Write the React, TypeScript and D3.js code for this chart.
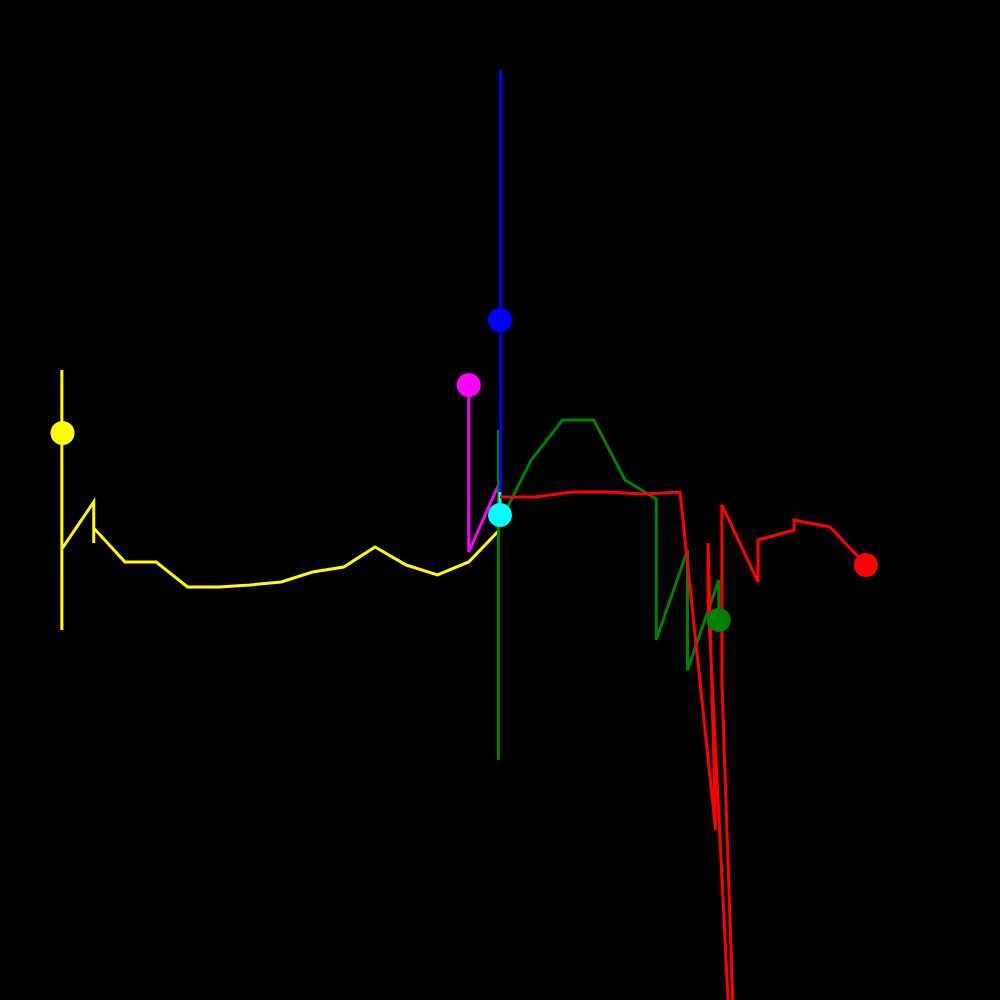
import React from "react";
import * as d3 from "d3";

// Each series: x positions (grid units, 1 unit = 31.25px) and y values (px-domain units)
const yellowX = [1.98, 1.98, 1.98, 3.0, 3.0, 3.0, 4.0, 5.0, 6.0, 7.0, 8.0, 9.0, 10.0, 11.0, 12.0, 13.0, 14.0, 15.0, 15.95];
const yellowY = [370, 630, 549, 502, 543, 528, 562, 562, 587, 587, 585, 582, 572, 567, 547, 565, 575, 562, 531];

const magentaX = [15.0, 15.0, 15.0, 15.0, 15.95];
const magentaY = [385, 455, 440, 552, 485];

const greenX = [15.95, 15.95, 15.95, 17.0, 18.0, 19.0, 20.0, 21.0, 21.0, 22.0, 22.0, 23.0, 23.0];
const greenY = [430, 760, 525, 460, 420, 420, 480, 499, 640, 550, 670, 580, 620];

const blueX = [16.02, 16.02];
const blueY = [70, 492];

const cyanX = [16.0, 16.0];
const cyanY = [492, 515];

const redX = [16.0, 17.12, 18.3, 19.42, 20.58, 21.76, 22.9, 22.66, 22.66, 23.36, 23.49, 23.1, 23.1, 24.26, 24.26, 25.41, 25.41, 26.56, 27.71];
const redY = [497, 497, 492, 492, 494, 492, 830, 543, 600, 1040, 1040, 681, 505, 582, 540, 530, 520, 527, 565];

const seriesColors = ["#ffff00", "#ff00ff", "#008000", "#0000ff", "#00ffff", "#ff0000"];
const markerX = [2.0, 15.0, 16.0, 16.0, 23.0, 27.71];
const markerY = [433, 385, 320, 515, 620, 565];
const markerColors = ["#ffff00", "#ff00ff", "#0000ff", "#00ffff", "#008000", "#ff0000"];

export default function App() {
  const W = 1000, H = 1000;
  const x = d3.scaleLinear().domain([0, 32]).range([0, W]);
  const y = d3.scaleLinear().domain([0, 1000]).range([0, H]);
  const series = [
    [yellowX, yellowY],
    [magentaX, magentaY],
    [greenX, greenY],
    [blueX, blueY],
    [cyanX, cyanY],
    [redX, redY],
  ];
  const line = d3
    .line<[number, number]>()
    .x((d) => x(d[0]))
    .y((d) => y(d[1]));
  return (
    <svg
      width={W}
      height={H}
      style={{ position: "fixed", left: 0, top: 0, background: "#000", display: "block" }}
    >
      <rect x={0} y={0} width={W} height={H} fill="#000" />
      {series.map(([xs, ys], i) => {
        const pts = xs.map((v, j) => [v, ys[j]] as [number, number]);
        return (
          <path
            key={i}
            d={line(pts) || ""}
            fill="none"
            stroke={seriesColors[i]}
            strokeWidth={3}
            strokeLinejoin="miter"
          />
        );
      })}
      {markerX.map((mx, i) => (
        <circle key={i} cx={x(mx)} cy={y(markerY[i])} r={12} fill={markerColors[i]} />
      ))}
    </svg>
  );
}
